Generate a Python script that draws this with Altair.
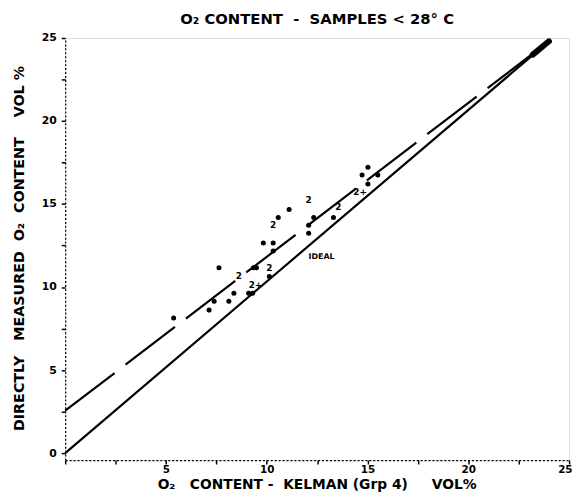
import altair as alt
import pandas as pd

# Axis tick values
x_ticks = [0, 1.25, 2.5, 3.75, 5, 6.25, 7.5, 8.75, 10, 11.25, 12.5, 13.75, 15,
           16.25, 17.5, 18.75, 20, 21.25, 22.5, 23.75, 25]
y_ticks = [0, 1.25, 2.5, 3.75, 5, 6.25, 7.5, 8.75, 10, 11.25, 12.5, 13.75, 15,
           16.25, 17.5, 18.75, 20, 21.25, 22.5, 23.75, 25]

# Ideal line and fitted (dashed) line
ideal_x = [0, 24.0]
ideal_y = [0, 24.8]
reg_x = [0, 24.0]
reg_y = [2.55, 24.8]
end_x = [23.2, 24.0]
end_y = [24.0, 24.8]

# Single sample dots
dot_x = [5.38, 7.14, 7.39, 7.63, 8.12, 8.37, 9.10, 9.30, 9.34, 9.49, 9.83, 10.13,
         10.32, 10.32, 10.57, 11.11, 12.08, 12.08, 12.33, 13.31, 14.73, 15.02, 15.02, 15.51]
dot_y = [8.14, 8.61, 9.14, 11.16, 9.14, 9.62, 9.62, 9.62, 11.16, 11.16, 12.65, 10.63,
         12.65, 12.17, 14.19, 14.67, 13.72, 13.24, 14.19, 14.19, 16.75, 17.22, 16.21, 16.75]

# Overlapping samples printed as numerals
num_x = [8.61, 10.13, 9.44, 10.32, 12.08, 13.55, 14.63]
num_y = [10.69, 11.16, 10.10, 13.72, 15.26, 14.79, 15.74]
num_lab = ["2", "2", "2+", "2", "2", "2", "2+"]

ideal_lab_x = [12.72]
ideal_lab_y = [11.82]
ideal_lab = ["IDEAL"]

FONT = "DejaVu Sans"
SP = "\u00a0"

xs = alt.Scale(domain=[0, 25], nice=False, zero=False)
ys = alt.Scale(domain=[-0.42, 25], nice=False, zero=False)

x_axis = alt.Axis(
    values=x_ticks, grid=False, domainDash=[2, 2], domainColor="black", domainWidth=1.2,
    tickColor="black", tickWidth=1.5, tickSize=4, labelPadding=1,
    labelExpr="datum.value % 5 == 0 && datum.value > 0 ? datum.label : ''",
    labelFont=FONT, labelFontWeight="bold", labelFontSize=10.5, labelColor="black",
    title=f"O₂{SP*3}CONTENT{SP}-{SP}{SP}KELMAN{SP}(Grp{SP}4){SP*5}VOL%",
    titleFont=FONT, titleFontSize=14,
    titleFontWeight="bold", titleColor="black", titleX=255, titleY=25,
    titleAlign="center", titleBaseline="middle", labelFlush=True, labelFlushOffset=3,
    labelOverlap=False,
)
y_axis = alt.Axis(
    values=y_ticks, grid=False, domainDash=[2, 2], domainColor="black", domainWidth=1.2,
    tickColor="black", tickWidth=1.5, tickSize=4, labelPadding=5,
    labelExpr="datum.value % 5 == 0 ? datum.label : ''",
    labelFont=FONT, labelFontWeight="bold", labelFontSize=11, labelColor="black",
    title=f"DIRECTLY{SP*3}MEASURED{SP*2}O₂{SP*2}CONTENT{SP*4}VOL{SP}%",
    titleFont=FONT, titleFontSize=14.5,
    titleFontWeight="bold", titleColor="black", titleX=-46, titleY=213,
    titleAlign="center", titleBaseline="middle", titleAngle=-90,
    labelFlush=False, labelOverlap=False,
)

ideal_df = pd.DataFrame({"x": ideal_x, "y": ideal_y})
reg_df = pd.DataFrame({"x": reg_x, "y": reg_y})
end_df = pd.DataFrame({"x": end_x, "y": end_y})
dot_df = pd.DataFrame({"x": dot_x, "y": dot_y})
num_df = pd.DataFrame({"x": num_x, "y": num_y, "t": num_lab})
lab_df = pd.DataFrame({"x": ideal_lab_x, "y": ideal_lab_y, "t": ideal_lab})

ideal = alt.Chart(ideal_df).mark_line(color="black", strokeWidth=2.2).encode(
    x=alt.X("x:Q", scale=xs, axis=x_axis),
    y=alt.Y("y:Q", scale=ys, axis=y_axis),
)
reg = alt.Chart(reg_df).mark_line(color="black", strokeWidth=2.2, strokeDash=[63, 14]).encode(
    x=alt.X("x:Q", scale=xs), y=alt.Y("y:Q", scale=ys)
)
end = alt.Chart(end_df).mark_line(color="black", strokeWidth=6, strokeCap="round").encode(
    x=alt.X("x:Q", scale=xs), y=alt.Y("y:Q", scale=ys)
)
dots = alt.Chart(dot_df).mark_circle(color="black", size=26, opacity=1).encode(
    x=alt.X("x:Q", scale=xs), y=alt.Y("y:Q", scale=ys)
)
nums = alt.Chart(num_df).mark_text(
    color="black", font=FONT, fontWeight="bold", fontSize=9, baseline="middle"
).encode(x=alt.X("x:Q", scale=xs), y=alt.Y("y:Q", scale=ys), text="t:N")
lab = alt.Chart(lab_df).mark_text(
    color="black", font=FONT, fontWeight="bold", fontSize=8, baseline="middle"
).encode(x=alt.X("x:Q", scale=xs), y=alt.Y("y:Q", scale=ys), text="t:N")

chart = alt.layer(ideal, reg, end, dots, nums, lab).properties(
    width=511, height=428,
    autosize=alt.AutoSizeParams(type="none"),
    padding={"left": 58, "top": 27, "right": 6, "bottom": 30},
    title=alt.TitleParams(
        f"O₂{SP}CONTENT{SP}{SP}-{SP}{SP}SAMPLES{SP}<{SP}28°{SP}C", font=FONT, fontSize=15,
        fontWeight="bold", color="black", anchor="middle", offset=3,
    ),
).configure_view(stroke=None).configure(background="white")

chart.save("out.html", embed_options={"renderer": "svg", "actions": False})
